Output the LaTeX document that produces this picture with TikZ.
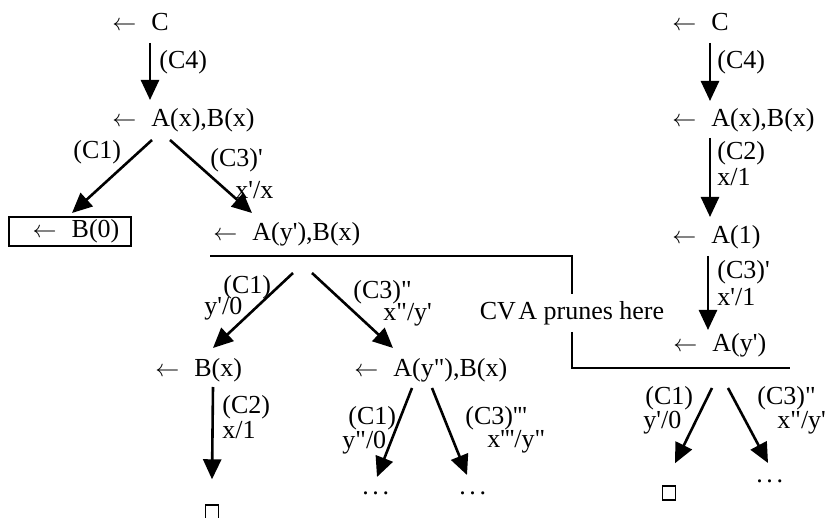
\documentclass[tikz,border=0pt]{standalone}
\usepackage{fontspec}
\setmainfont{Liberation Serif}[Ligatures=TeXOff]
\usetikzlibrary{arrows.meta}
\newcommand\fs{\fontsize{13pt}{15pt}\selectfont}
\newcommand\la{\makebox[19.5pt][l]{$\leftarrow$}}
\newcommand\mydots{.\hspace{1.8pt}.\hspace{1.8pt}.}
\begin{document}
\begin{tikzpicture}[x=0.5pt,y=-0.5pt,
  goal/.style={inner sep=0pt, anchor=base west, font=\fs},
  elab/.style={inner sep=0pt, anchor=west, font=\fs},
  arr/.style={line width=1.3pt, -{Triangle[length=10pt,width=9pt]}},
  rulel/.style={line width=1pt},
  qed/.style={draw, line width=0.7pt, minimum width=6.5pt, minimum height=7pt, inner sep=0pt}]
\useasboundingbox (0,0) rectangle (826,518);
% left tree
\node[goal] (L1) at (112,31) {\la C};
\node[goal] (L2) at (112,127) {\la A(x),B(x)};
\node[draw, line width=1pt, minimum width=61pt, minimum height=14.5pt, inner sep=0pt, font=\fs] (L3) at (70,231.5) {\hspace{6pt}\la B(0)};
\node[goal] (L4) at (213,241) {\la A(y'),B(x)};
\node[goal] (L5) at (155,377) {\la B(x)};
\node[goal] (L6) at (354,377) {\la A(y"),B(x)};
\node[qed] (sq1) at (212,512) {};
\node[goal] (d1) at (362,495) {\mydots};
\node[goal] (d2) at (459,495) {\mydots};
% right tree
\node[goal] (R1) at (672,31) {\la C};
\node[goal] (R2) at (672,127) {\la A(x),B(x)};
\node[goal] (R3) at (672,244) {\la A(1)};
\node[goal] (R4) at (673,352) {\la A(y')};
\node[qed] (sq2) at (669,493) {};
\node[goal] (d3) at (756,483) {\mydots};
% pruning line
\node[font=\fs, inner xsep=0pt, inner ysep=0pt, minimum height=18.5pt] (cva) at (572,313) {CV\kern1.2pt A prunes here};
\coordinate (p1) at (210,256);
\coordinate (p2) at (790,368);
\draw[rulel] (p1) -| (cva.north);
\draw[rulel] (cva.south) |- (p2);
% connectors left
\draw[arr] ([shift={(38,12)}]L1.base west) -- ([shift={(38,-27)}]L2.base west);
\draw[arr] ([shift={(40,13)}]L2.base west) -- ([shift={(2,-3)}]L3.north);
\draw[arr] ([shift={(58,13)}]L2.base west) -- ([shift={(39,-28)}]L4.base west);
\draw[arr] ([shift={(80,32)}]L4.base west) -- ([shift={(58,-29)}]L5.base west);
\draw[arr] ([shift={(99,32)}]L4.base west) -- ([shift={(39,-29)}]L6.base west);
\draw[arr] ([shift={(58,10)}]L5.base west) -- ([shift={(0,-25)}]sq1.north);
\draw[arr] ([shift={(58,11)}]L6.base west) -- ([shift={(15,-18)}]d1.base west);
\draw[arr] ([shift={(78,11)}]L6.base west) -- ([shift={(8,-20)}]d2.base west);
% connectors right
\draw[arr] ([shift={(38,12)}]R1.base west) -- ([shift={(38,-26)}]R2.base west);
\draw[arr] ([shift={(38,11)}]R2.base west) -- ([shift={(38,-27)}]R3.base west);
\draw[arr] ([shift={(36,12)}]R3.base west) -- ([shift={(35,-22)}]R4.base west);
\draw[arr] ([shift={(39,36)}]R4.base west) -- ([shift={(6,-22)}]sq2.north);
\draw[arr] ([shift={(55,36)}]R4.base west) -- ([shift={(12,-20)}]d3.base west);
% edge labels left
\node[elab] (e1) at (159,62) {(C4)};
\node[elab] (e2) at (73,152) {(C1)};
\node[elab] (e3) at (210,160) {(C3)'};
\node[elab] (e4) at (235,190) {x'/x};
\node[elab] (e5) at (223,287) {(C1)};
\node[elab] (e6) at (204,309) {y'/0};
\node[elab] (e7) at (353,292) {(C3)"};
\node[elab] (e8) at (383,315) {x"/y'};
\node[elab] (e9) at (222,407) {(C2)};
\node[elab] (e10) at (222,430) {x/1};
\node[elab] (e11) at (348,418) {(C1)};
\node[elab] (e12) at (342,443) {y"/0};
\node[elab] (e13) at (465,418) {(C3)'''};
\node[elab] (e14) at (487,442) {x'''/y"};
% edge labels right
\node[elab] (f1) at (717,62) {(C4)};
\node[elab] (f2) at (717,153) {(C2)};
\node[elab] (f3) at (717,177) {x/1};
\node[elab] (f4) at (717,272) {(C3)'};
\node[elab] (f5) at (717,297) {x'/1};
\node[elab] (f6) at (645,398) {(C1)};
\node[elab] (f7) at (643,423) {y'/0};
\node[elab] (f8) at (757,398) {(C3)"};
\node[elab] (f9) at (777,423) {x"/y'};
\end{tikzpicture}
\end{document}
